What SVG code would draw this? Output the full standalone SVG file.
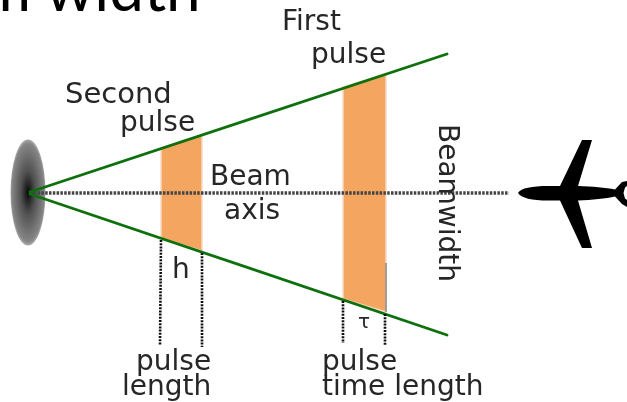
<svg xmlns="http://www.w3.org/2000/svg" width="627" height="402" viewBox="0 0 627 402">
<defs>
<radialGradient id="ant">
<stop offset="0" stop-color="#0a0a0a"/><stop offset="0.4" stop-color="#505050"/><stop offset="0.92" stop-color="#858585"/><stop offset="1" stop-color="#aaa"/>
</radialGradient>
<filter id="soft" x="-5%" y="-5%" width="110%" height="110%"><feGaussianBlur stdDeviation="0.55"/></filter>
</defs>
<style>
.t{font-family:"DejaVu Sans",sans-serif;font-size:28px;fill:#262626}
.g{stroke:#0b700b;stroke-width:2.8;fill:none;stroke-linecap:round}
.d{stroke:#111;stroke-width:2.6;stroke-dasharray:2 1.2;fill:none}
.h{stroke:#444;stroke-width:3.4;stroke-dasharray:2.500 1.300;fill:none}
.p{fill:#f4a55f;stroke:#f7dcc6;stroke-width:1.5}
</style>
<rect width="627" height="402" fill="#fff"/>
<text x="-20" y="11" font-family="Lato,sans-serif" font-size="62" fill="#000">m width</text>
<g filter="url(#soft)">
<g id="antenna"><ellipse cx="28" cy="192.500" rx="17.500" ry="53" fill="url(#ant)"/></g>
<g id="pulse2"><polygon class="p" points="161,148 202,135 202,251 161,238"/></g>
<g id="pulse1"><polygon class="p" points="343,87 386,74 386,312 343,299"/></g>
<g id="connectors">
<line class="h" x1="30" y1="193" x2="509" y2="193"/>
<line class="g" x1="30" y1="192" x2="447" y2="54"/>
<line class="g" x1="30" y1="194" x2="447" y2="335"/>
<line class="d" x1="161" y1="240" x2="160" y2="345"/>
<line class="d" x1="202" y1="253" x2="202" y2="347"/>
<line class="d" x1="343" y1="301" x2="343" y2="343"/>
<line class="d" x1="385" y1="314" x2="385" y2="345"/>
<line stroke="#888" stroke-width="1.500" x1="386" y1="263" x2="386" y2="312"/>
</g>
<g id="plane"><path d="M518 193C521 188 532 186 548 186L560 186L582 140L592 140L578 186C592 186.500 606 187.500 615 189.500L622 182L627 181L627 186L625 187.500L623.500 193L625 198.500L627 200L627 207L622 204L615 196.500C606 198.500 592 200 578 200.500L592 248L582 248L560 200.500L548 200.500C532 200.500 521 198 518 193Z" fill="#000"/></g>
<g id="labels">
<text class="t" x="282" y="30">First</text>
<text class="t" x="311" y="63">pulse</text>
<text class="t" x="65" y="103" style="font-size:29px">Second</text>
<text class="t" x="120" y="131">pulse</text>
<text class="t" x="210" y="185">Beam</text>
<text class="t" x="224" y="219">axis</text>
<text class="t" x="172" y="278">h</text>
<text class="t" x="358" y="328" style="font-size:20px">τ</text>
<text class="t" x="136" y="370">pulse</text>
<text class="t" x="122" y="395">length</text>
<text class="t" x="322" y="370">pulse</text>
<text class="t" x="322" y="395">time length</text>
<text class="t" transform="translate(439 124) rotate(90)">Beamwidth</text>
</g>
</g>
</svg>
